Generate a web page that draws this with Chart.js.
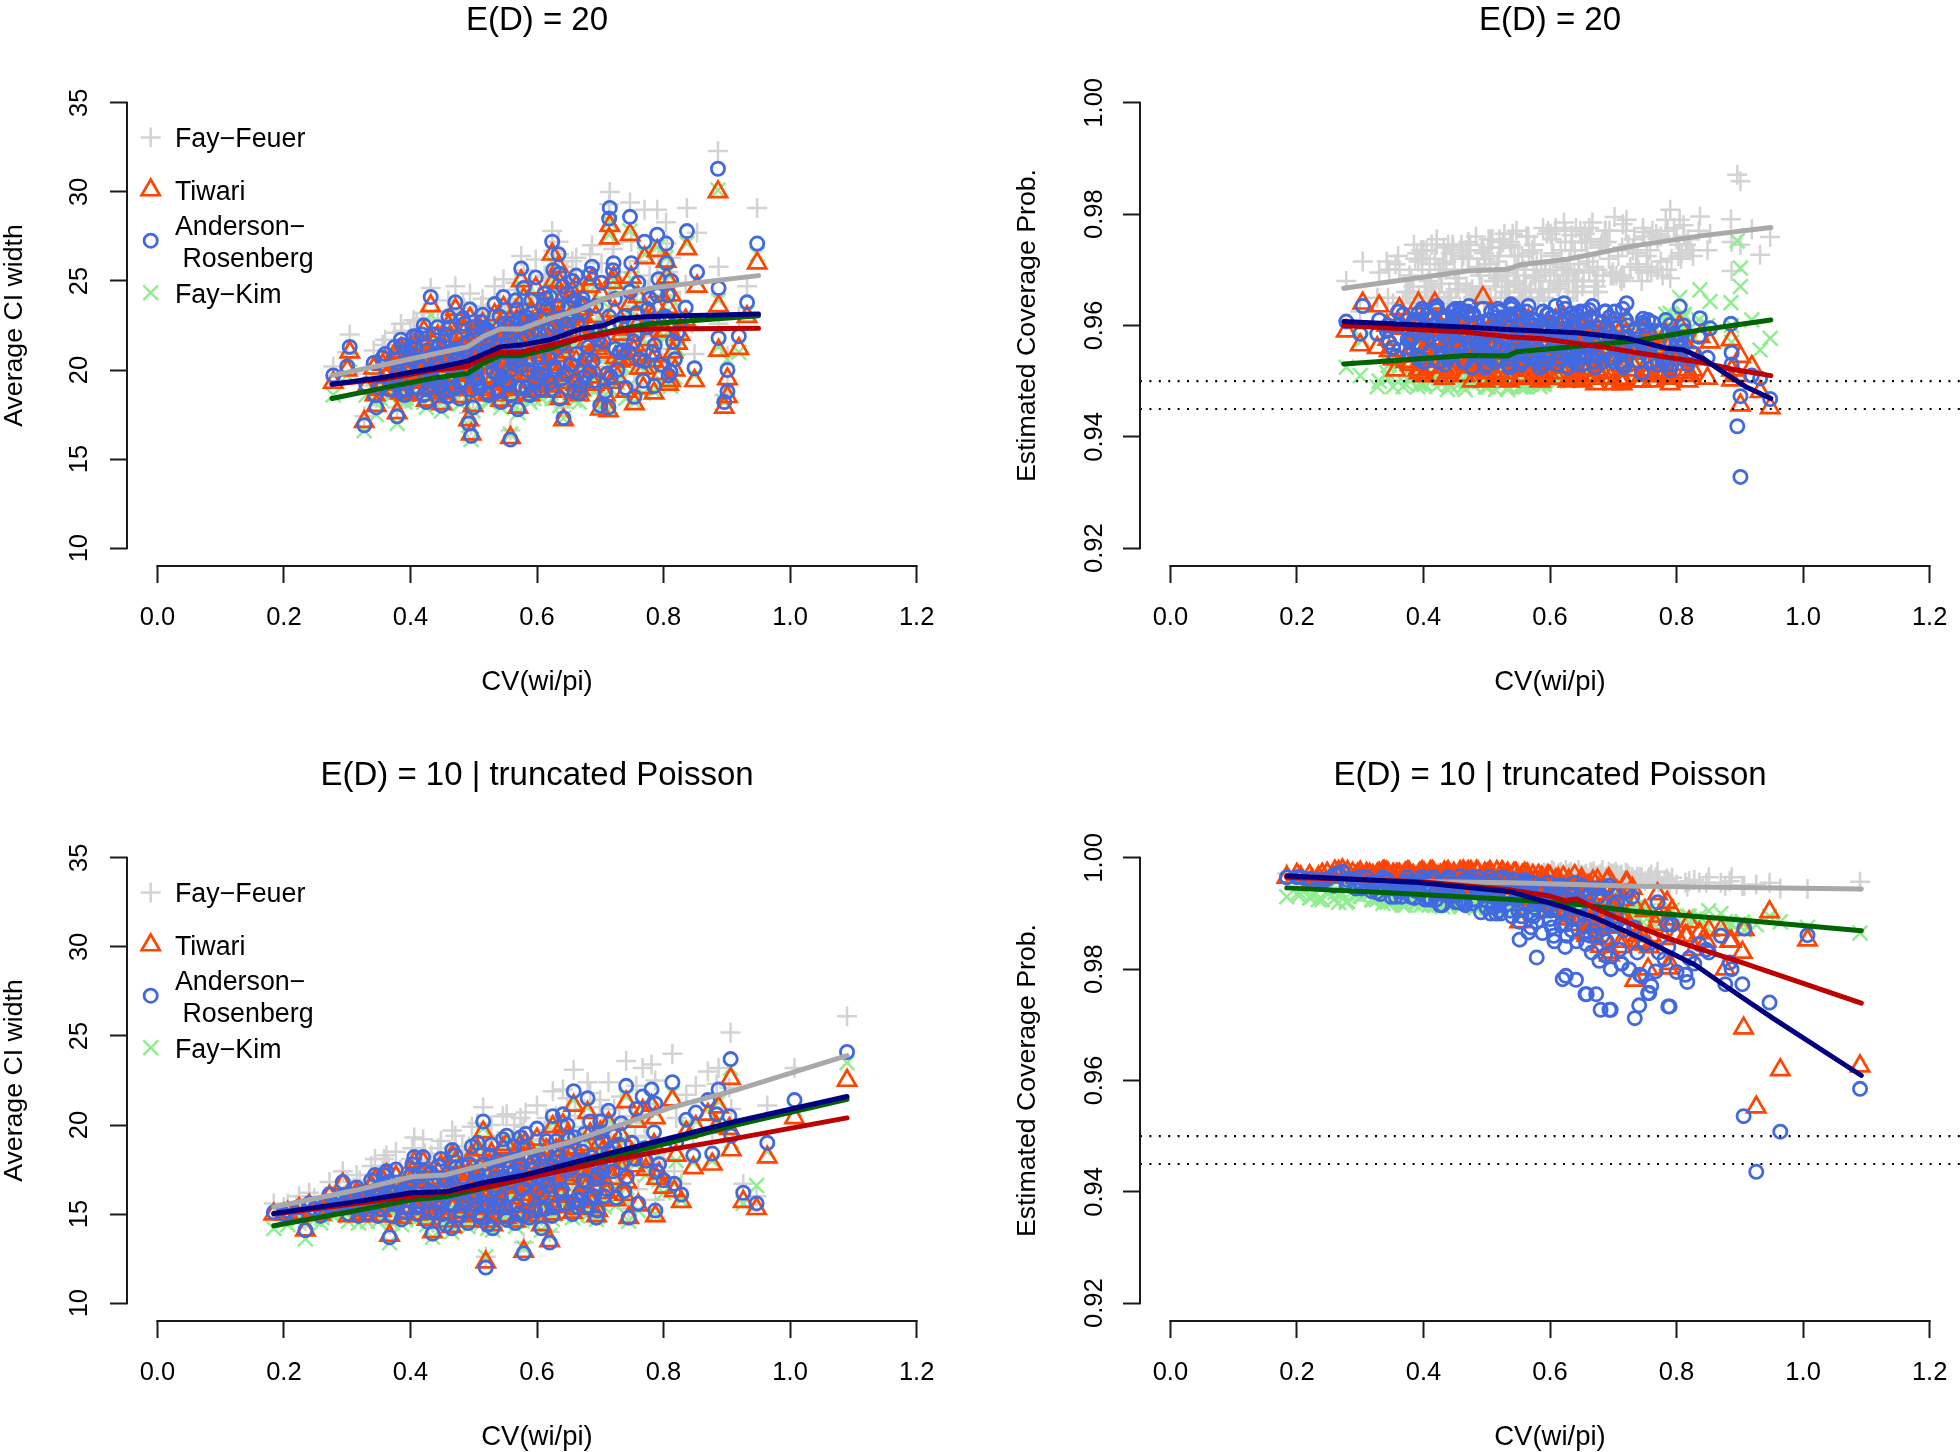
<!DOCTYPE html>
<html>
<head>
<meta charset="utf-8">
<title>CI width and coverage</title>
<script src="https://cdn.jsdelivr.net/npm/chart.js@4/dist/chart.umd.js"></script>
<style>
    html, body { margin: 0; padding: 0; background: #fff; overflow: hidden; width: 1960px; height: 1452px; }
    canvas { position: absolute; }
</style>
</head>
<body>
<canvas id="panel-tl" width="1074" height="726" style="left:0;top:0"></canvas>
<canvas id="panel-tr" width="1074" height="726" style="left:1012.5px;top:0"></canvas>
<canvas id="panel-bl" width="1074" height="726" style="left:0;top:755px"></canvas>
<canvas id="panel-br" width="1074" height="726" style="left:1012.5px;top:755px"></canvas>
<script>
// --- axes ---
const xTickValues = [0, 0.2, 0.4, 0.6, 0.8, 1.0, 1.2];
const widthTicks = [10, 15, 20, 25, 30, 35];
const coverageTicks = [0.92, 0.94, 0.96, 0.98, 1.00];
const referenceLevels = [0.95, 0.945];

// --- E(D) = 20 scatter ---
const cvTop = [
    .886,.948,.715,.714,.747,.770,.790,.804,.805,.837,
    .853,.887,.932,.919,.887,.901,.901,.896,.849,.808,
    .785,.754,.713,.700,.642,.558,.496,.492,.327,.379,
    .346,.304,.300,.278,.432,.471,.421,.575,.624,.634,
    .635,.662,.687,.721,.749,.807,.812,.790,.745,.770,
    .360,.372,.385,.391,.398,.405,.412,.418,.425,.431,
    .438,.443,.449,.455,.460,.466,.472,.478,.483,.489,
    .494,.499,.505,.509,.514,.519,.524,.528,.533,.538,
    .543,.547,.552,.556,.561,.566,.570,.575,.579,.584,
    .589,.593,.598,.603,.607,.612,.617,.622,.626,.631,
    .636,.641,.646,.651,.656,.662,.667,.672,.678,.684,
    .690,.696,.702,.708,.714,.720,.727,.733,.740,.747,
    .753,.760,.768,.775,.783,.792,.800,.811,.822,.835,
    .330,.342,.352,.362,.375,.392,.408,.446,.488,.522,
    .548,.583,.611,.639,.668,.693,.724,.758,.775,.815,
    .381,.387,.393,.399,.404,.410,.415,.421,.427,.433,
    .436,.441,.447,.452,.458,.463,.468,.474,.479,.485,
    .491,.496,.501,.507,.512,.517,.522,.526,.531,.536,
    .541,.545,.550,.554,.559,.563,.568,.572,.577,.581,
    .586,.591,.595,.600,.605,.609,.614,.619,.624,.628,
    .633,.638,.643,.648,.653,.659,.664,.670,.675,.681,
    .384,.396,.407,.424,.439,.456,.470,.487,.503,.515,
    .529,.539,.549,.558,.565,.574,.588,.597,.604,.616,
    .627,.637,.650,.661,.673,.688,.699,.711,.723,.736,
    .344,.356,.368,.378,.390,.402,.413,.429,.444,.461,
    .477,.492,.506,.520,.534,.551,.567,.582,.601,.621,
    .641,.658,.676,.694,.717,.738,.762,.778,.796,.826,
    .446,.474,.498,.511,.537,.557,.573,.592,.608,.630,
    .645,.655,.671,.683,.705,.731,.755,.786,.803,.818,
    .400,.419,.435,.451,.467,.481,.502,.518,.544,.562
];
const widthTopAR = [
    31.3,27.1,29.1,28.5,28.6,27.2,27.6,27.1,26.0,27.8,
    25.5,24.6,23.8,21.9,21.8,20.0,18.8,18.2,20.1,19.7,
    19.1,18.5,17.9,18.0,17.3,16.1,16.3,17.0,16.9,17.4,
    17.9,21.3,20.2,19.7,24.1,23.8,22.5,25.7,27.2,26.5,
    25.4,25.3,25.8,26.0,26.0,24.2,25.0,24.2,21.0,20.5,
    20.9,19.4,21.7,18.6,20.3,21.9,19.0,22.0,18.2,20.7,
    19.3,22.4,18.0,20.8,23.0,19.6,21.8,18.4,22.9,20.2,
    23.4,17.9,21.0,19.0,23.1,22.2,18.6,20.5,23.7,19.7,
    18.2,24.1,21.4,19.2,22.6,23.9,17.8,20.2,24.6,21.9,
    18.6,23.2,25.2,20.7,18.9,24.3,22.2,19.3,25.6,21.2,
    18.4,24.7,19.8,23.5,25.0,20.9,18.7,24.0,22.1,25.4,
    19.4,21.7,24.9,18.8,23.0,25.6,20.0,22.6,19.0,24.4,
    21.6,24.9,19.4,23.4,21.0,25.1,22.9,19.9,22.1,23.5,
    19.2,20.4,19.0,20.0,21.3,20.9,21.2,21.4,21.0,21.7,
    20.3,19.0,20.1,22.8,19.1,23.6,21.2,23.2,22.4,21.6,
    19.9,21.4,18.9,20.9,19.5,21.9,20.2,18.6,21.1,19.8,
    22.0,20.6,19.1,21.6,18.5,22.4,20.0,21.2,19.4,22.6,
    20.5,18.9,21.9,19.3,22.7,20.8,18.7,22.1,19.9,21.3,
    23.0,19.6,21.0,22.4,18.6,20.4,23.4,19.0,21.7,22.8,
    20.0,23.9,18.8,21.5,22.9,19.7,24.0,20.7,18.9,22.5,
    23.6,19.5,21.8,24.3,20.3,18.8,22.7,23.7,19.6,21.3,
    18.8,20.0,21.2,19.6,20.9,22.0,19.0,21.4,20.0,22.2,
    21.1,18.8,22.6,20.0,21.5,22.9,20.6,19.3,22.0,23.5,
    20.2,21.9,22.8,19.4,23.7,20.5,22.3,19.8,24.0,21.1,
    18.6,20.7,18.9,19.7,18.9,20.6,20.2,19.0,21.3,18.9,
    20.7,21.6,19.5,22.3,20.8,19.4,21.1,23.0,19.8,24.1,
    21.5,23.9,20.6,22.0,19.6,23.0,20.6,24.0,20.3,22.7,
    19.2,20.9,22.4,21.4,18.9,21.8,20.6,22.1,21.3,20.0,
    22.5,20.3,23.2,19.9,21.6,21.0,22.0,21.4,23.0,20.6,
    21.3,20.1,19.5,18.8,21.0,19.3,19.7,21.0,22.1,20.9
];
const widthTopTiwari = [
    30.0,26.0,28.1,27.4,27.6,26.3,26.7,26.1,25.2,26.8,
    24.7,23.6,23.0,21.2,21.1,19.5,18.5,17.9,19.4,19.2,
    18.7,18.1,17.7,17.8,17.2,16.2,16.4,17.2,17.1,17.6,
    18.0,21.0,20.0,19.3,23.6,23.4,22.2,25.0,26.5,25.8,
    24.9,24.7,25.1,25.2,25.2,23.5,24.2,23.5,20.6,20.1,
    20.5,19.2,21.2,18.6,19.9,21.4,18.9,21.5,18.3,20.3,
    19.1,21.9,18.1,20.4,22.5,19.3,21.3,18.5,22.4,19.9,
    22.9,18.0,20.6,18.9,22.6,21.7,18.6,20.1,23.1,19.4,
    18.3,23.5,21.0,19.0,22.1,23.3,17.9,19.8,24.0,21.4,
    18.6,22.7,24.6,20.3,18.8,23.7,21.7,19.1,25.0,20.8,
    18.4,24.1,19.5,22.9,24.4,20.5,18.6,23.4,21.6,24.7,
    19.2,21.2,24.2,18.6,22.4,24.9,19.6,22.0,18.8,23.7,
    21.1,24.1,19.0,22.7,20.5,24.4,22.2,19.4,21.5,22.8,
    19.0,20.1,18.9,19.6,20.9,20.5,20.8,21.0,20.6,21.2,
    19.9,18.9,19.7,22.3,18.9,23.0,20.7,22.5,21.7,21.0,
    19.6,21.0,18.8,20.5,19.3,21.4,19.9,18.6,20.7,19.5,
    21.5,20.2,18.9,21.1,18.5,21.9,19.7,20.7,19.2,22.1,
    20.1,18.9,21.4,19.1,22.2,20.4,18.7,21.6,19.6,20.9,
    22.5,19.3,20.6,21.9,18.6,20.0,22.8,18.9,21.2,22.2,
    19.7,23.3,18.8,21.0,22.3,19.4,23.4,20.3,18.8,21.9,
    23.0,19.3,21.3,23.6,19.9,18.7,22.1,23.1,19.3,20.8,
    18.7,19.7,20.8,19.4,20.5,21.5,18.9,20.9,19.7,21.7,
    20.7,18.8,22.0,19.7,21.0,22.3,20.2,19.1,21.5,22.9,
    19.9,21.4,22.2,19.2,23.0,20.1,21.7,19.5,23.3,20.6,
    18.6,20.3,18.9,19.5,18.8,20.2,19.9,18.9,20.9,18.9,
    20.3,21.1,19.2,21.8,20.4,19.2,20.7,22.4,19.5,23.5,
    21.0,23.2,20.2,21.4,19.3,22.3,20.1,23.2,19.8,22.0,
    19.0,20.5,21.9,21.0,18.8,21.3,20.2,21.6,20.8,19.7,
    21.9,19.9,22.5,19.6,21.0,20.5,21.4,20.8,22.2,20.0,
    20.9,19.8,19.3,18.7,20.6,19.1,19.5,20.6,21.6,20.5
];
const widthTopFeuer = [
    32.3,29.1,30.0,29.3,29.4,29.0,29.0,28.3,27.1,29.1,
    27.7,25.8,24.7,23.0,22.6,20.8,19.2,18.6,20.9,20.4,
    19.9,19.2,18.6,18.7,17.9,16.6,16.9,17.6,17.4,17.9,
    18.4,22.0,21.0,20.2,24.6,24.7,23.2,26.4,27.8,27.2,
    26.5,26.3,27.0,27.1,27.2,25.5,26.3,25.3,21.9,21.4,
    21.7,20.0,22.6,19.1,21.0,22.8,19.6,22.9,18.7,21.5,
    20.0,23.3,18.5,21.6,23.9,20.3,22.7,18.9,23.8,21.0,
    24.3,18.4,21.9,19.7,24.0,23.1,19.2,21.3,24.7,20.5,
    18.8,25.1,22.3,20.0,23.6,24.9,18.3,21.1,25.6,22.9,
    19.3,24.2,26.2,21.6,19.6,25.3,23.1,20.0,26.7,22.1,
    19.0,25.8,20.6,24.5,26.1,21.9,19.4,25.1,23.1,26.5,
    20.2,22.8,26.0,19.6,24.1,26.8,20.9,23.6,19.8,25.5,
    22.7,26.1,20.2,24.5,21.9,26.4,24.0,20.9,23.2,24.8,
    19.8,21.1,19.5,20.7,22.1,21.7,22.0,22.3,21.8,22.6,
    21.1,19.6,20.9,23.8,19.8,24.7,22.2,24.3,23.4,22.7,
    20.5,22.2,19.4,21.6,20.1,22.7,20.9,19.1,21.9,20.4,
    22.8,21.3,19.7,22.4,19.0,23.3,20.7,22.0,20.1,23.5,
    21.2,19.4,22.8,19.9,23.6,21.6,19.2,23.0,20.6,22.1,
    24.0,20.3,21.8,23.3,19.2,21.1,24.5,19.6,22.6,23.8,
    20.7,25.0,19.4,22.4,24.0,20.4,25.2,21.5,19.6,23.5,
    24.7,20.2,22.7,25.5,21.1,19.5,23.7,24.8,20.3,22.2,
    19.3,20.7,22.0,20.3,21.7,22.9,19.6,22.2,20.7,23.1,
    22.0,19.4,23.6,20.7,22.4,24.0,21.4,20.0,23.0,24.6,
    21.0,22.9,23.9,20.1,24.8,21.3,23.4,20.6,25.2,22.1,
    19.1,21.4,19.4,20.3,19.4,21.3,20.9,19.6,22.1,19.4,
    21.5,22.5,20.2,23.2,21.6,20.1,22.0,24.0,20.5,25.2,
    22.5,25.1,21.4,23.1,20.4,24.2,21.6,25.3,21.2,23.9,
    19.8,21.7,23.3,22.3,19.5,22.7,21.4,23.1,22.2,20.7,
    23.6,21.1,24.4,20.7,22.7,22.0,23.1,22.4,24.2,21.6,
    22.1,20.8,20.2,19.4,21.8,20.0,20.4,21.8,23.0,21.7
];
const widthTopKim = [
    30.1,26.5,28.3,27.6,27.8,26.5,26.9,26.3,25.4,27.1,
    25.0,23.9,23.2,21.0,21.3,20.6,18.9,18.2,19.7,19.3,
    18.8,18.2,17.8,17.9,17.3,16.4,16.1,16.9,16.6,17.0,
    17.5,20.6,19.7,18.6,23.1,22.9,21.9,24.7,26.1,25.5,
    24.6,24.5,24.9,25.0,25.1,23.3,24.0,23.2,20.3,19.9,
    20.1,18.8,20.9,18.2,19.5,21.1,18.5,21.2,17.9,19.9,
    18.7,21.6,17.7,20.0,22.2,18.9,21.0,18.1,22.0,19.5,
    22.5,17.7,20.2,18.5,22.3,21.4,18.2,19.7,22.8,19.0,
    17.9,23.1,20.6,18.6,21.8,23.0,17.6,19.4,23.6,21.1,
    18.2,22.3,24.3,19.9,18.4,23.4,21.4,18.7,24.6,20.4,
    18.0,23.8,19.1,22.6,24.0,20.1,18.2,23.1,21.3,24.4,
    18.8,20.9,23.9,18.3,22.1,24.6,19.3,21.8,18.4,23.4,
    20.8,23.8,18.7,22.4,20.2,24.1,21.9,19.1,21.2,22.5,
    18.6,19.6,18.4,19.2,20.5,20.1,20.4,20.6,20.2,20.9,
    19.5,18.5,19.4,21.9,18.6,22.7,20.4,22.2,21.4,20.7,
    19.2,20.6,18.4,20.1,18.9,21.0,19.5,18.2,20.3,19.1,
    21.1,19.8,18.5,20.7,18.1,21.5,19.3,20.3,18.8,21.7,
    19.7,18.5,21.0,18.7,21.8,20.0,18.3,21.2,19.2,20.5,
    22.1,18.9,20.2,21.5,18.2,19.6,22.4,18.5,20.8,21.8,
    19.3,22.9,18.4,20.6,21.9,19.0,23.0,19.9,18.4,21.5,
    22.6,18.9,20.9,23.2,19.5,18.3,21.7,22.7,18.9,20.4,
    18.3,19.3,20.4,19.0,20.1,21.1,18.5,20.5,19.3,21.3,
    20.3,18.4,21.6,19.3,20.6,21.9,19.8,18.7,21.1,22.5,
    19.5,21.0,21.8,18.8,22.6,19.7,21.3,19.1,22.9,20.2,
    18.2,19.9,18.5,19.1,18.4,19.8,19.5,18.5,20.5,18.5,
    19.9,20.7,18.8,21.4,20.0,18.8,20.3,22.0,19.1,23.1,
    20.6,22.8,19.8,21.0,18.9,21.9,19.7,22.8,19.4,21.6,
    18.6,20.1,21.5,20.6,18.4,20.9,19.8,21.2,20.4,19.3,
    21.5,19.5,22.1,19.2,20.6,20.1,21.0,20.4,21.8,19.6,
    20.5,19.4,18.9,18.3,20.2,18.7,19.1,20.2,21.2,20.1
];
const coverTopAR = [
    .9603,.9468,.9630,.9563,.9612,.9570,.9601,.9550,.9634,.9613,
    .9595,.9551,.9505,.9510,.9530,.9328,.9473,.9419,.9542,.9560,
    .9530,.9545,.9560,.9535,.9555,.9536,.9550,.9575,.9585,.9550,
    .9570,.9635,.9585,.9607,.9610,.9620,.9628,.9600,.9630,.9622,
    .9615,.9628,.9625,.9640,.9600,.9575,.9590,.9520,.9515,.9530,
    .9625,.9560,.9610,.9545,.9630,.9590,.9555,.9632,.9570,.9615,
    .9540,.9600,.9628,.9565,.9585,.9535,.9635,.9550,.9605,.9575,
    .9630,.9545,.9610,.9590,.9535,.9625,.9560,.9600,.9540,.9638,
    .9570,.9620,.9530,.9598,.9560,.9635,.9545,.9610,.9580,.9525,
    .9625,.9590,.9540,.9615,.9565,.9530,.9605,.9640,.9550,.9585,
    .9540,.9620,.9580,.9530,.9610,.9560,.9635,.9525,.9595,.9550,
    .9600,.9540,.9625,.9575,.9530,.9610,.9555,.9590,.9535,.9605,
    .9565,.9535,.9590,.9550,.9610,.9530,.9570,.9600,.9540,.9580,
    .9610,.9590,.9560,.9600,.9575,.9622,.9595,.9625,.9590,.9610,
    .9585,.9555,.9575,.9600,.9570,.9590,.9580,.9555,.9590,.9545,
    .9575,.9610,.9540,.9625,.9585,.9550,.9600,.9635,.9565,.9530,
    .9595,.9545,.9615,.9570,.9630,.9535,.9590,.9555,.9620,.9580,
    .9545,.9605,.9530,.9625,.9565,.9595,.9540,.9615,.9575,.9525,
    .9635,.9555,.9600,.9530,.9580,.9625,.9545,.9610,.9565,.9535,
    .9595,.9530,.9620,.9555,.9585,.9635,.9540,.9570,.9610,.9525,
    .9600,.9565,.9530,.9625,.9545,.9590,.9615,.9535,.9575,.9605,
    .9605,.9565,.9620,.9535,.9600,.9560,.9625,.9570,.9540,.9615,
    .9550,.9630,.9575,.9535,.9610,.9565,.9530,.9620,.9590,.9550,
    .9570,.9535,.9610,.9585,.9545,.9625,.9565,.9535,.9600,.9575,
    .9600,.9545,.9620,.9570,.9605,.9535,.9615,.9550,.9590,.9625,
    .9525,.9585,.9610,.9560,.9530,.9625,.9590,.9540,.9605,.9565,
    .9595,.9545,.9575,.9615,.9525,.9560,.9605,.9535,.9585,.9550,
    .9610,.9560,.9525,.9590,.9620,.9550,.9600,.9530,.9570,.9610,
    .9545,.9625,.9565,.9535,.9595,.9555,.9610,.9540,.9570,.9530,
    .9535,.9600,.9580,.9630,.9555,.9605,.9570,.9630,.9590,.9545
];
const coverTopTiwari = [
    .9574,.9452,.9598,.9528,.9590,.9515,.9566,.9530,.9600,.9580,
    .9570,.9502,.9481,.9526,.9520,.9457,.9544,.9510,.9505,.9520,
    .9505,.9510,.9500,.9495,.9520,.9520,.9530,.9535,.9560,.9530,
    .9555,.9640,.9565,.9590,.9590,.9600,.9605,.9570,.9610,.9600,
    .9585,.9600,.9595,.9610,.9570,.9540,.9570,.9495,.9500,.9510,
    .9605,.9535,.9590,.9520,.9610,.9565,.9535,.9640,.9550,.9590,
    .9515,.9575,.9610,.9540,.9560,.9510,.9615,.9525,.9580,.9550,
    .9650,.9520,.9590,.9565,.9510,.9600,.9535,.9575,.9515,.9610,
    .9545,.9595,.9505,.9570,.9535,.9610,.9520,.9585,.9555,.9500,
    .9600,.9565,.9515,.9590,.9540,.9505,.9580,.9615,.9525,.9560,
    .9510,.9595,.9550,.9500,.9585,.9530,.9610,.9495,.9570,.9515,
    .9570,.9505,.9600,.9545,.9495,.9585,.9520,.9560,.9500,.9575,
    .9530,.9500,.9560,.9515,.9585,.9505,.9540,.9570,.9510,.9540,
    .9635,.9600,.9540,.9630,.9550,.9640,.9570,.9605,.9565,.9585,
    .9560,.9525,.9550,.9575,.9540,.9560,.9550,.9520,.9560,.9515,
    .9550,.9585,.9515,.9600,.9560,.9525,.9575,.9610,.9540,.9505,
    .9570,.9520,.9590,.9545,.9605,.9510,.9565,.9530,.9595,.9555,
    .9520,.9580,.9505,.9600,.9540,.9570,.9515,.9590,.9550,.9500,
    .9610,.9530,.9575,.9505,.9555,.9600,.9520,.9585,.9540,.9510,
    .9570,.9505,.9595,.9530,.9560,.9610,.9515,.9545,.9585,.9500,
    .9575,.9540,.9505,.9600,.9520,.9565,.9590,.9510,.9550,.9580,
    .9580,.9540,.9595,.9510,.9575,.9535,.9600,.9545,.9515,.9590,
    .9525,.9605,.9550,.9510,.9585,.9540,.9505,.9595,.9565,.9525,
    .9545,.9510,.9585,.9560,.9520,.9600,.9540,.9505,.9575,.9550,
    .9575,.9520,.9595,.9545,.9580,.9510,.9590,.9525,.9565,.9600,
    .9500,.9560,.9585,.9535,.9505,.9600,.9565,.9515,.9580,.9540,
    .9570,.9520,.9550,.9590,.9500,.9535,.9580,.9510,.9560,.9520,
    .9585,.9535,.9500,.9565,.9595,.9525,.9575,.9505,.9545,.9585,
    .9515,.9600,.9540,.9505,.9570,.9530,.9585,.9510,.9540,.9500,
    .9510,.9575,.9555,.9605,.9530,.9580,.9545,.9605,.9565,.9520
];
const coverTopFeuer = [
    .9791,.9759,.9782,.9740,.9768,.9756,.9808,.9745,.9790,.9796,
    .9765,.9698,.9727,.9773,.9750,.9859,.9745,.9871,.9735,.9730,
    .9700,.9695,.9680,.9690,.9660,.9645,.9640,.9670,.9650,.9660,
    .9700,.9715,.9625,.9680,.9740,.9750,.9755,.9745,.9770,.9762,
    .9750,.9775,.9770,.9790,.9760,.9720,.9760,.9685,.9680,.9700,
    .9725,.9660,.9745,.9640,.9700,.9735,.9670,.9720,.9650,.9710,
    .9640,.9730,.9700,.9665,.9745,.9635,.9720,.9650,.9760,.9690,
    .9735,.9645,.9710,.9755,.9650,.9725,.9670,.9765,.9660,.9745,
    .9680,.9770,.9650,.9725,.9690,.9760,.9660,.9745,.9710,.9665,
    .9775,.9700,.9660,.9755,.9680,.9670,.9735,.9785,.9690,.9720,
    .9680,.9775,.9710,.9670,.9750,.9695,.9785,.9680,.9740,.9690,
    .9750,.9690,.9795,.9725,.9690,.9770,.9705,.9755,.9700,.9775,
    .9725,.9695,.9765,.9715,.9790,.9720,.9755,.9780,.9735,.9770,
    .9695,.9715,.9640,.9700,.9660,.9715,.9680,.9735,.9700,.9740,
    .9700,.9680,.9710,.9735,.9705,.9720,.9745,.9735,.9760,.9745,
    .9685,.9720,.9650,.9735,.9670,.9710,.9650,.9745,.9690,.9640,
    .9715,.9660,.9740,.9685,.9630,.9725,.9670,.9745,.9650,.9705,
    .9665,.9730,.9645,.9755,.9680,.9715,.9640,.9750,.9695,.9660,
    .9765,.9675,.9725,.9650,.9700,.9760,.9660,.9735,.9685,.9645,
    .9715,.9650,.9765,.9690,.9730,.9775,.9665,.9705,.9750,.9650,
    .9735,.9695,.9660,.9770,.9680,.9725,.9755,.9660,.9700,.9745,
    .9670,.9735,.9650,.9700,.9745,.9675,.9720,.9655,.9755,.9690,
    .9660,.9740,.9705,.9650,.9760,.9690,.9660,.9770,.9725,.9675,
    .9700,.9660,.9750,.9715,.9670,.9770,.9695,.9685,.9745,.9710,
    .9650,.9710,.9640,.9690,.9730,.9660,.9745,.9675,.9650,.9720,
    .9665,.9735,.9650,.9755,.9690,.9670,.9730,.9650,.9765,.9700,
    .9680,.9750,.9660,.9770,.9685,.9730,.9770,.9690,.9775,.9725,
    .9745,.9660,.9720,.9680,.9750,.9660,.9735,.9695,.9770,.9680,
    .9700,.9765,.9680,.9750,.9690,.9735,.9705,.9770,.9725,.9755,
    .9735,.9650,.9700,.9665,.9735,.9655,.9740,.9685,.9725,.9665
];
const coverTopKim = [
    .9641,.9577,.9610,.9570,.9605,.9560,.9622,.9565,.9650,.9664,
    .9643,.9600,.9556,.9610,.9570,.9703,.9670,.9752,.9600,.9610,
    .9590,.9570,.9555,.9540,.9520,.9490,.9505,.9525,.9490,.9500,
    .9530,.9575,.9510,.9525,.9550,.9545,.9560,.9520,.9545,.9550,
    .9560,.9575,.9580,.9600,.9590,.9590,.9620,.9560,.9550,.9575,
    .9540,.9495,.9510,.9490,.9560,.9525,.9500,.9555,.9505,.9530,
    .9485,.9535,.9550,.9505,.9520,.9485,.9545,.9495,.9530,.9510,
    .9545,.9490,.9530,.9515,.9485,.9540,.9500,.9520,.9485,.9550,
    .9505,.9545,.9490,.9525,.9500,.9555,.9495,.9530,.9515,.9490,
    .9550,.9530,.9505,.9545,.9515,.9500,.9540,.9560,.9510,.9525,
    .9515,.9565,.9535,.9510,.9555,.9525,.9570,.9515,.9545,.9520,
    .9560,.9525,.9590,.9545,.9520,.9585,.9535,.9565,.9530,.9580,
    .9560,.9540,.9595,.9560,.9620,.9545,.9590,.9615,.9570,.9610,
    .9500,.9515,.9490,.9530,.9505,.9540,.9510,.9550,.9525,.9535,
    .9515,.9500,.9530,.9540,.9530,.9550,.9555,.9545,.9580,.9570,
    .9510,.9535,.9495,.9545,.9520,.9505,.9540,.9490,.9525,.9500,
    .9540,.9495,.9530,.9510,.9550,.9490,.9525,.9505,.9545,.9515,
    .9500,.9535,.9490,.9550,.9510,.9530,.9495,.9545,.9520,.9505,
    .9555,.9500,.9535,.9490,.9515,.9550,.9495,.9540,.9510,.9500,
    .9525,.9495,.9550,.9510,.9535,.9560,.9505,.9520,.9545,.9500,
    .9540,.9515,.9505,.9560,.9510,.9530,.9550,.9510,.9525,.9545,
    .9515,.9495,.9540,.9505,.9530,.9495,.9550,.9510,.9490,.9535,
    .9500,.9545,.9520,.9495,.9540,.9510,.9495,.9550,.9530,.9505,
    .9520,.9510,.9550,.9535,.9515,.9565,.9530,.9525,.9560,.9550,
    .9505,.9530,.9490,.9520,.9540,.9495,.9545,.9505,.9490,.9535,
    .9495,.9525,.9545,.9505,.9490,.9550,.9520,.9495,.9540,.9510,
    .9530,.9510,.9545,.9565,.9525,.9555,.9575,.9540,.9595,.9580,
    .9545,.9500,.9490,.9525,.9550,.9495,.9535,.9500,.9520,.9545,
    .9515,.9555,.9535,.9520,.9565,.9545,.9580,.9550,.9590,.9570,
    .9495,.9535,.9520,.9550,.9500,.9540,.9510,.9545,.9530,.9490
];

// --- E(D) = 10 | truncated Poisson scatter ---
const cvBottom = [
    1.09,1.007,.906,.814,.741,.658,.68,.515,.293,.184,
    .234,.367,.435,.465,.519,.579,.62,.607,.53,.566,
    .947,.926,.964,.907,.877,.847,.817,.828,.787,.745,
    .694,.656,.887,.87,.904,.851,.884,.836,.781,.767,
    .787,.713,.757,.70,.625,.641,.552,.574,.466,.506,
    .406,.42,.362,.344,.266,.789,.734,.696,.755,.673,
    .288,.302,.315,.326,.338,.349,.358,.369,.377,.386,
    .394,.403,.411,.418,.426,.433,.441,.448,.456,.463,
    .471,.478,.484,.491,.497,.503,.509,.516,.522,.528,
    .534,.54,.546,.552,.558,.564,.57,.576,.582,.588,
    .594,.6,.606,.612,.618,.624,.63,.636,.642,.648,
    .654,.66,.666,.672,.678,.684,.69,.696,.703,.71,
    .717,.725,.733,.742,.75,.76,.772,.785,.8,.82,
    .206,.224,.248,.258,.272,.28,.31,.33,.352,.373,
    .31,.32,.332,.343,.354,.365,.375,.384,.392,.401,
    .409,.416,.423,.43,.437,.444,.451,.458,.465,.472,
    .479,.486,.493,.5,.507,.513,.519,.525,.531,.537,
    .543,.549,.555,.561,.567,.573,.579,.585,.591,.597,
    .603,.609,.615,.621,.627,.633,.639,.645,.651,.657,
    .663,.669,.675,.681,.687,.693,.699,.706,.713,.72,
    .327,.341,.356,.371,.388,.398,.412,.427,.439,.453,
    .469,.482,.495,.511,.524,.538,.55,.563,.577,.59,
    .601,.613,.625,.638,.65,.664,.677,.69,.704,.73,
    .296,.318,.336,.36,.38,.396,.414,.43,.447,.46,
    .475,.488,.501,.517,.533,.548,.56,.572,.587,.6,
    .617,.634,.647,.668,.683,.7,.722,.738,.77,.793,
    .2,.22,.24,.26,.278,.3,.505,.535,.556,.61
];
const widthBottomAR = [
    24.1,21.4,23.7,22.4,22.2,21.9,21.5,20.2,16.8,15.1,
    14.1,13.7,13.9,14.2,12.0,12.8,13.4,14.2,14.2,14.5,
    15.6,16.2,19.0,19.4,18.4,18.3,16.7,16.1,15.2,14.8,
    14.8,15.0,22.0,21.4,20.5,20.7,20.6,20.3,22.0,21.6,
    21.2,20.8,20.9,20.2,20.5,20.6,19.4,19.3,18.6,19.0,
    18.2,18.2,17.4,17.2,15.6,17.4,17.9,17.2,18.1,16.9,
    15.9,15.0,16.5,15.3,16.9,14.9,17.2,15.7,17.5,14.7,
    16.2,17.8,15.0,16.8,14.6,17.3,15.8,18.1,14.4,16.5,
    18.3,15.2,17.1,14.5,18.8,16.0,15.0,17.8,14.4,18.9,
    16.6,15.5,19.2,14.7,17.6,18.8,15.0,16.4,19.5,14.8,
    17.9,19.8,15.3,18.4,16.6,14.9,19.1,17.0,15.6,20.0,
    17.6,19.3,15.8,18.5,16.8,20.2,17.9,15.2,19.1,16.4,
    18.4,15.9,20.1,17.1,19.0,15.6,18.0,19.6,16.9,19.0,
    15.2,15.4,15.3,14.9,16.1,15.5,15.9,16.0,16.4,16.2,
    15.4,16.2,15.0,16.3,15.3,16.8,15.6,16.6,15.1,17.2,
    15.4,16.6,17.4,15.1,16.2,17.7,15.0,16.9,15.6,17.6,
    14.9,16.3,17.8,15.5,17.2,14.8,16.1,18.3,15.4,17.4,
    15.9,14.9,18.0,16.8,15.5,17.4,18.7,15.9,17.0,15.2,
    18.1,16.1,19.1,17.4,15.4,18.6,16.4,17.8,19.2,15.7,
    17.9,16.2,19.5,15.4,18.2,17.0,19.6,16.0,18.5,17.4,
    15.9,15.5,16.6,14.9,16.3,15.4,17.1,16.1,15.1,16.9,
    15.5,17.7,15.9,16.9,15.5,18.0,15.4,17.3,14.9,18.2,
    16.3,15.3,17.7,16.2,18.4,15.4,18.0,16.0,17.4,18.9,
    15.6,14.9,15.8,16.0,15.9,16.6,15.5,16.3,15.4,17.3,
    16.4,15.6,16.8,15.6,16.4,17.1,16.1,17.7,16.9,17.1,
    16.9,18.2,17.4,18.0,15.9,17.7,19.4,16.3,18.7,17.8,
    15.0,15.0,15.6,15.2,15.4,16.1,17.4,17.0,16.8,16.9
];
const widthBottomTiwari = [
    22.5,20.4,22.6,21.4,21.3,21.1,20.7,19.6,16.7,15.0,
    14.1,13.8,14.0,14.3,12.3,12.9,13.5,14.4,14.4,14.6,
    15.3,15.7,18.2,18.6,17.8,17.6,16.3,15.7,14.9,14.8,
    14.9,15.1,21.0,20.6,19.8,19.9,19.9,19.6,21.1,20.8,
    20.4,20.1,20.2,19.6,19.9,20.0,18.9,18.9,18.3,18.6,
    17.9,17.9,17.2,16.9,15.5,17.0,17.5,16.9,17.7,16.6,
    15.8,14.9,16.2,15.2,16.6,14.9,16.8,15.5,17.1,14.8,
    16.0,17.4,15.0,16.5,14.7,17.0,15.6,17.7,14.6,16.2,
    17.9,15.1,16.8,14.6,18.3,15.8,15.0,17.4,14.6,18.4,
    16.3,15.4,18.7,14.8,17.2,18.3,15.0,16.1,19.0,14.9,
    17.5,19.2,15.3,17.9,16.3,15.0,18.6,16.7,15.5,19.4,
    17.2,18.7,15.7,18.0,16.5,19.5,17.5,15.2,18.5,16.2,
    17.9,15.8,19.4,16.8,18.4,15.5,17.5,18.9,16.5,18.3,
    15.1,15.3,15.2,15.0,16.0,15.3,15.7,15.8,16.2,16.0,
    15.3,16.0,15.0,16.1,15.2,16.5,15.5,16.3,15.1,16.9,
    15.3,16.3,17.0,15.1,16.0,17.3,15.0,16.6,15.4,17.2,
    14.9,16.0,17.4,15.3,16.8,14.9,15.9,17.8,15.3,17.0,
    15.7,14.9,17.5,16.5,15.4,17.0,18.2,15.7,16.6,15.2,
    17.6,15.9,18.6,17.0,15.4,18.1,16.1,17.4,18.6,15.6,
    17.5,16.0,18.9,15.4,17.7,16.6,19.0,15.8,17.9,17.0,
    15.8,15.4,16.4,14.9,16.1,15.3,16.8,15.9,15.1,16.6,
    15.4,17.3,15.7,16.6,15.4,17.5,15.3,16.9,15.0,17.7,
    16.0,15.3,17.3,16.0,17.9,15.3,17.5,15.8,17.0,18.3,
    15.5,14.9,15.7,15.8,15.7,16.3,15.4,16.1,15.3,17.0,
    16.2,15.5,16.5,15.5,16.1,16.7,15.9,17.3,16.5,16.7,
    16.5,17.7,17.0,17.5,15.8,17.3,18.8,16.1,18.1,17.3,
    15.0,15.0,15.5,15.2,15.3,16.0,17.0,16.7,16.5,16.5
];
const widthBottomFeuer = [
    26.1,23.2,25.2,24.0,23.6,23.1,22.4,21.0,17.4,15.6,
    14.6,14.4,14.5,14.9,12.6,13.4,14.0,14.9,14.8,15.1,
    16.0,16.7,21.1,20.9,19.6,19.4,17.4,16.7,15.8,15.3,
    15.4,15.6,23.2,23.0,22.1,22.2,22.3,21.7,23.4,23.2,
    22.5,22.4,22.2,21.4,21.9,22.0,20.6,20.4,19.7,20.1,
    19.3,19.2,18.3,18.1,16.0,18.4,19.0,18.3,19.4,18.0,
    16.5,15.4,17.2,15.8,17.7,15.3,18.1,16.3,18.5,15.2,
    16.9,18.7,15.5,17.6,15.1,18.3,16.5,19.1,14.9,17.3,
    19.4,15.7,18.0,15.0,19.9,16.8,15.6,18.9,15.0,20.0,
    17.5,16.1,20.5,15.2,18.7,20.0,15.6,17.3,20.7,15.4,
    19.1,21.1,16.0,19.7,17.6,15.5,20.5,18.1,16.3,21.5,
    18.8,20.8,16.5,19.9,17.9,21.8,19.1,15.8,20.6,17.5,
    19.7,16.7,21.6,18.3,20.5,16.4,19.3,21.2,18.1,20.4,
    15.6,16.0,15.9,15.3,16.8,16.1,16.5,16.7,17.2,17.0,
    15.9,16.9,15.5,17.0,15.8,17.7,16.2,17.5,15.6,18.1,
    16.0,17.5,18.4,15.6,17.0,18.7,15.5,17.8,16.2,18.6,
    15.4,17.1,18.8,16.1,18.2,15.3,16.9,19.4,16.0,18.4,
    16.6,15.4,19.0,17.8,16.1,18.4,19.9,16.6,18.0,15.7,
    19.2,16.9,20.4,18.5,16.0,19.8,17.3,18.9,20.5,16.4,
    19.0,17.1,20.9,16.0,19.4,18.0,21.0,16.8,19.8,18.5,
    16.5,16.0,17.4,15.4,17.1,16.0,18.0,16.9,15.6,17.9,
    16.1,18.8,16.7,17.9,16.1,19.1,16.0,18.4,15.4,19.4,
    17.1,15.8,18.8,17.0,19.6,16.0,19.2,16.8,18.5,20.3,
    16.1,15.4,16.4,16.8,16.6,17.5,16.1,17.1,16.0,18.3,
    17.3,16.3,17.8,16.2,17.3,18.2,16.9,18.8,17.9,18.2,
    17.9,19.4,18.5,19.2,16.7,18.9,20.9,17.1,20.1,19.0,
    15.4,15.5,16.2,15.7,16.0,16.8,18.4,18.0,17.8,17.9
];
const widthBottomKim = [
    23.5,20.9,23.2,21.8,21.6,21.4,21.0,19.8,16.2,14.2,
    13.6,13.4,13.7,14.0,12.6,13.1,13.8,14.1,14.1,14.3,
    16.6,15.6,18.5,19.1,18.0,17.9,16.7,15.8,15.0,14.6,
    14.7,14.8,21.3,20.9,20.0,20.2,20.2,20.0,21.5,21.1,
    20.7,20.3,20.4,19.8,20.1,20.2,19.2,19.1,18.4,18.8,
    17.7,17.7,16.9,16.7,15.0,17.1,17.6,16.9,17.8,16.6,
    15.4,14.6,15.9,14.9,16.3,14.6,16.6,15.2,16.9,14.4,
    15.7,17.0,14.7,16.2,14.4,16.7,15.3,17.3,14.2,16.0,
    17.6,14.9,16.5,14.3,18.0,15.4,14.7,17.1,14.2,18.1,
    16.0,15.1,18.4,14.5,16.8,18.0,14.7,15.8,18.6,14.6,
    17.1,18.8,15.0,17.6,16.0,14.7,18.3,16.4,15.2,19.0,
    16.9,18.3,15.3,17.7,16.2,19.2,17.2,14.9,18.2,15.9,
    17.6,15.5,19.1,16.5,18.1,15.2,17.2,18.6,16.2,18.0,
    14.4,14.8,14.7,14.5,15.6,14.9,15.3,15.5,15.9,15.7,
    14.9,15.6,14.6,15.7,14.8,16.1,15.1,15.9,14.7,16.5,
    14.9,15.9,16.6,14.7,15.6,16.9,14.6,16.2,15.0,16.8,
    14.5,15.6,17.0,14.9,16.4,14.5,15.5,17.4,14.9,16.6,
    15.3,14.5,17.1,16.1,15.0,16.6,17.8,15.3,16.2,14.8,
    17.2,15.5,18.2,16.6,15.0,17.7,15.7,17.0,18.2,15.2,
    17.1,15.6,18.5,15.0,17.3,16.2,18.6,15.4,17.5,16.6,
    15.4,15.0,16.0,14.5,15.7,14.9,16.4,15.5,14.7,16.2,
    15.0,16.9,15.3,16.2,15.0,17.1,14.9,16.5,14.6,17.3,
    15.6,14.9,16.9,15.6,17.5,14.9,17.1,15.4,16.6,17.9,
    15.1,14.5,15.3,15.4,15.3,15.9,15.0,15.7,14.9,16.6,
    15.8,15.1,16.1,15.1,15.7,16.3,15.5,16.9,16.1,16.3,
    16.1,17.3,16.6,17.1,15.4,16.9,18.4,15.7,17.7,16.9,
    14.6,14.6,15.1,14.8,14.9,15.6,16.6,16.3,16.1,16.1
];
const coverBottomAR = [
    .9585,.9861,.9536,.9790,.9735,.9755,.9727,.9900,.9945,.9965,
    .9960,.9945,.9935,.9920,.9905,.9821,.9782,.9850,.9930,.9866,
    .9740,.9436,.9508,.9873,.9773,.9835,.9777,.9810,.9733,.9787,
    .9727,.9755,.9800,.9860,.9773,.9830,.9812,.9845,.9818,.9796,
    .9840,.9810,.9757,.9880,.9788,.9781,.9853,.9895,.9915,.9900,
    .9930,.9925,.9940,.9950,.9970,.9733,.9712,.9727,.9757,.9755,
    .9962,.9945,.9955,.9938,.9960,.9930,.9950,.9942,.9958,.9928,
    .9950,.9925,.9960,.9938,.9915,.9955,.9930,.9948,.9920,.9958,
    .9945,.9918,.9956,.9902,.9935,.9948,.9912,.9950,.9900,.9938,
    .9930,.9895,.9942,.9885,.9920,.9935,.9875,.9910,.9925,.9865,
    .9915,.9930,.9860,.9905,.9880,.9840,.9920,.9890,.9850,.9912,
    .9878,.9900,.9830,.9860,.9815,.9895,.9850,.9800,.9880,.9835,
    .9870,.9800,.9875,.9790,.9845,.9770,.9830,.9880,.9795,.9820,
    .9965,.9955,.9962,.9950,.9975,.9960,.9950,.9958,.9945,.9955,
    .9965,.9950,.9935,.9960,.9945,.9930,.9965,.9955,.9940,.9960,
    .9925,.9965,.9945,.9915,.9960,.9935,.9920,.9967,.9940,.9955,
    .9925,.9965,.9945,.9910,.9958,.9930,.9915,.9965,.9940,.9905,
    .9960,.9930,.9895,.9950,.9915,.9955,.9885,.9940,.9905,.9955,
    .9875,.9945,.9905,.9950,.9860,.9925,.9955,.9890,.9940,.9845,
    .9935,.9870,.9945,.9900,.9825,.9950,.9880,.9920,.9810,.9940,
    .9950,.9960,.9930,.9955,.9940,.9965,.9925,.9950,.9965,.9935,
    .9960,.9925,.9950,.9915,.9962,.9935,.9905,.9955,.9925,.9945,
    .9905,.9950,.9880,.9925,.9950,.9860,.9930,.9945,.9895,.9930,
    .9958,.9940,.9965,.9950,.9930,.9955,.9965,.9935,.9950,.9925,
    .9965,.9940,.9955,.9925,.9960,.9945,.9960,.9900,.9950,.9890,
    .9935,.9870,.9910,.9945,.9860,.9915,.9940,.9830,.9920,.9880,
    .9965,.9962,.9958,.9970,.9955,.9965,.9965,.9950,.9955,.9940
];
const coverBottomTiwari = [
    .9626,.9852,.9694,.9860,.9850,.9860,.9841,.9945,.9965,.9965,
    .9965,.9960,.9965,.9970,.9955,.9940,.9925,.9930,.9950,.9935,
    .9903,.9552,.9619,.9871,.9800,.9850,.9860,.9835,.9802,.9845,
    .9825,.9865,.9850,.9871,.9830,.9870,.9850,.9865,.9855,.9880,
    .9890,.9850,.9840,.9910,.9900,.9880,.9885,.9925,.9960,.9940,
    .9960,.9965,.9970,.9972,.9975,.9810,.9780,.9830,.9800,.9880,
    .9972,.9966,.9970,.9958,.9975,.9962,.9970,.9965,.9974,.9960,
    .9972,.9965,.9975,.9968,.9960,.9974,.9966,.9972,.9962,.9976,
    .9975,.9958,.9976,.9955,.9972,.9970,.9960,.9975,.9952,.9968,
    .9968,.9950,.9972,.9945,.9965,.9970,.9940,.9960,.9968,.9935,
    .9958,.9965,.9930,.9955,.9945,.9920,.9960,.9940,.9925,.9952,
    .9930,.9950,.9890,.9935,.9905,.9945,.9920,.9875,.9935,.9900,
    .9925,.9880,.9915,.9865,.9905,.9860,.9895,.9920,.9860,.9885,
    .9965,.9960,.9972,.9965,.9978,.9975,.9968,.9972,.9970,.9972,
    .9972,.9968,.9960,.9972,.9965,.9958,.9974,.9968,.9964,.9972,
    .9950,.9973,.9965,.9945,.9972,.9958,.9950,.9975,.9962,.9970,
    .9950,.9974,.9962,.9940,.9970,.9952,.9945,.9974,.9960,.9935,
    .9972,.9952,.9925,.9965,.9940,.9968,.9915,.9958,.9930,.9968,
    .9905,.9960,.9930,.9965,.9890,.9945,.9968,.9915,.9955,.9875,
    .9950,.9895,.9960,.9925,.9855,.9962,.9905,.9940,.9840,.9955,
    .9970,.9974,.9955,.9972,.9962,.9975,.9950,.9968,.9975,.9958,
    .9972,.9948,.9965,.9942,.9974,.9955,.9935,.9968,.9945,.9960,
    .9930,.9962,.9905,.9945,.9962,.9885,.9945,.9958,.9915,.9945,
    .9970,.9960,.9975,.9968,.9955,.9970,.9975,.9955,.9968,.9950,
    .9975,.9960,.9970,.9950,.9972,.9962,.9972,.9925,.9965,.9915,
    .9950,.9895,.9930,.9958,.9885,.9935,.9955,.9860,.9935,.9905,
    .9970,.9968,.9970,.9976,.9968,.9974,.9975,.9965,.9968,.9958
];
const coverBottomFeuer = [
    .9957,.9944,.9950,.9955,.9958,.9965,.9960,.9965,.9970,.9972,
    .9968,.9972,.9968,.9966,.9970,.9962,.9965,.9968,.9966,.9965,
    .9955,.9952,.9945,.9950,.9950,.9955,.9948,.9960,.9950,.9965,
    .9960,.9970,.9965,.9955,.9950,.9965,.9958,.9955,.9960,.9965,
    .9958,.9970,.9965,.9972,.9968,.9970,.9965,.9968,.9970,.9968,
    .9973,.9968,.9970,.9975,.9972,.9955,.9960,.9965,.9962,.9968,
    .9965,.9970,.9962,.9968,.9972,.9965,.9970,.9963,.9975,.9966,
    .9968,.9973,.9965,.9970,.9975,.9966,.9972,.9968,.9974,.9965,
    .9972,.9966,.9970,.9975,.9965,.9972,.9968,.9974,.9966,.9970,
    .9975,.9966,.9972,.9965,.9970,.9974,.9966,.9968,.9972,.9964,
    .9972,.9966,.9975,.9968,.9970,.9964,.9972,.9966,.9970,.9963,
    .9968,.9962,.9972,.9965,.9970,.9960,.9966,.9972,.9964,.9968,
    .9960,.9968,.9955,.9965,.9958,.9970,.9955,.9963,.9952,.9958,
    .9970,.9965,.9975,.9968,.9978,.9970,.9972,.9975,.9970,.9974,
    .9968,.9972,.9966,.9970,.9975,.9965,.9971,.9968,.9973,.9966,
    .9970,.9965,.9973,.9968,.9966,.9972,.9970,.9964,.9974,.9967,
    .9972,.9966,.9970,.9975,.9964,.9971,.9968,.9973,.9966,.9970,
    .9965,.9973,.9968,.9970,.9975,.9964,.9971,.9967,.9973,.9966,
    .9978,.9966,.9972,.9964,.9970,.9975,.9965,.9978,.9968,.9972,
    .9964,.9976,.9968,.9972,.9965,.9975,.9962,.9970,.9966,.9973,
    .9970,.9966,.9973,.9968,.9971,.9965,.9974,.9967,.9970,.9966,
    .9968,.9973,.9966,.9972,.9965,.9971,.9975,.9966,.9970,.9973,
    .9965,.9972,.9978,.9966,.9970,.9974,.9964,.9968,.9975,.9965,
    .9972,.9967,.9970,.9974,.9965,.9969,.9972,.9966,.9974,.9968,
    .9966,.9972,.9968,.9974,.9965,.9970,.9967,.9973,.9965,.9971,
    .9975,.9966,.9970,.9964,.9978,.9968,.9972,.9966,.9975,.9964,
    .9972,.9968,.9974,.9970,.9975,.9968,.9970,.9966,.9972,.9968
];
const coverBottomKim = [
    .9865,.9875,.9880,.9890,.9905,.9925,.9915,.9925,.9935,.9930,
    .9925,.9915,.9918,.9920,.9915,.9920,.9925,.9918,.9912,.9915,
    .9895,.9880,.9885,.9870,.9885,.9875,.9895,.9890,.9905,.9900,
    .9925,.9925,.9880,.9900,.9885,.9905,.9885,.9895,.9905,.9890,
    .9900,.9915,.9895,.9900,.9920,.9910,.9910,.9925,.9925,.9920,
    .9925,.9915,.9930,.9925,.9920,.9900,.9905,.9915,.9905,.9920,
    .9940,.9930,.9935,.9925,.9932,.9920,.9938,.9926,.9930,.9918,
    .9935,.9920,.9930,.9925,.9915,.9928,.9922,.9932,.9918,.9926,
    .9930,.9915,.9928,.9912,.9925,.9922,.9910,.9926,.9908,.9918,
    .9925,.9912,.9922,.9910,.9918,.9920,.9908,.9915,.9925,.9905,
    .9918,.9925,.9905,.9915,.9910,.9900,.9922,.9912,.9905,.9920,
    .9915,.9920,.9905,.9910,.9900,.9918,.9908,.9900,.9912,.9905,
    .9900,.9895,.9910,.9890,.9905,.9885,.9900,.9912,.9885,.9895,
    .9935,.9930,.9940,.9925,.9935,.9922,.9935,.9928,.9925,.9930,
    .9938,.9925,.9932,.9920,.9935,.9918,.9930,.9925,.9920,.9933,
    .9915,.9930,.9925,.9912,.9928,.9918,.9932,.9914,.9926,.9920,
    .9930,.9915,.9925,.9910,.9928,.9918,.9912,.9930,.9920,.9908,
    .9928,.9914,.9922,.9908,.9925,.9912,.9920,.9906,.9918,.9926,
    .9910,.9925,.9915,.9908,.9922,.9912,.9905,.9920,.9915,.9902,
    .9918,.9905,.9915,.9910,.9900,.9918,.9908,.9914,.9898,.9912,
    .9930,.9922,.9935,.9915,.9928,.9918,.9932,.9925,.9914,.9930,
    .9920,.9910,.9928,.9914,.9924,.9908,.9928,.9916,.9922,.9912,
    .9922,.9910,.9918,.9925,.9905,.9915,.9912,.9906,.9918,.9900,
    .9935,.9925,.9918,.9930,.9922,.9915,.9932,.9920,.9926,.9912,
    .9928,.9914,.9925,.9912,.9922,.9908,.9926,.9915,.9910,.9922,
    .9912,.9920,.9908,.9915,.9905,.9918,.9900,.9912,.9895,.9906,
    .9935,.9928,.9925,.9938,.9920,.9932,.9918,.9922,.9912,.9915
];

// --- smoothers ---
const lineCvTL = [.276,.358,.437,.49,.516,.542,.574,.621,.669,.705,.732,.78,.95];
const lineWidthTLFeuer = [19.7,20.3,20.9,21.3,21.9,22.3,22.3,22.9,23.4,24.0,24.3,24.6,25.3];
const lineWidthTLKim = [18.4,19.0,19.55,19.8,20.4,20.8,20.8,21.2,21.8,22.1,22.3,22.6,23.05];
const lineWidthTLTiwari = [19.2,19.5,20.0,20.2,20.7,21.0,21.0,21.4,21.8,22.0,22.2,22.3,22.35];
const lineWidthTLAR = [19.2,19.6,20.1,20.5,20.9,21.3,21.4,21.7,22.3,22.5,22.9,23.0,23.15];

const lineCvTRFeuer = [.274,.469,.532,.553,.627,.733,.838,.949];
const lineCoverTRFeuer = [.9667,.9698,.9701,.9709,.9719,.9743,.9761,.9776];
const lineCvTRKim = [.274,.469,.532,.548,.627,.733,.838,.949];
const lineCoverTRKim = [.9531,.9546,.9545,.9553,.9561,.9572,.9592,.961];
const lineCvTRTiwari = [.274,.469,.532,.59,.68,.743,.843,.89,.949];
const lineCoverTRTiwari = [.96,.9588,.958,.9576,.9562,.955,.9533,.9521,.951];
const lineCvTRAR = [.274,.469,.532,.643,.722,.785,.811,.843,.87,.911,.949];
const lineCoverTRAR = [.9607,.9597,.9593,.9587,.9577,.9559,.9556,.954,.9519,.9489,.9469];

const lineCvBL = [.184,.315,.402,.455,.515,.581,.648,.714,.814,.914,1.09];
const lineWidthBLFeuer = [15.4,16.35,17.1,17.2,17.75,18.4,19.0,19.8,21.0,21.96,23.9];
const lineWidthBLKim = [14.35,15.2,15.8,15.97,16.45,17.0,17.6,18.2,19.05,20.0,21.45];
const lineWidthBLTiwari = [15.0,15.6,16.0,16.2,16.5,17.0,17.5,18.0,18.65,19.25,20.4];
const lineWidthBLAR = [15.04,15.7,16.2,16.25,16.76,17.2,17.8,18.4,19.3,20.2,21.6];

const lineCvBRFeuer = [.184,.352,.539,.739,1.092];
const lineCoverBRFeuer = [.9966,.9958,.9955,.9949,.9944];
const lineCvBRKim = [.184,.352,.539,.645,.739,.906,1.092];
const lineCoverBRKim = [.9946,.9937,.9925,.9916,.9903,.9888,.9869];
const lineCvBRTiwari = [.184,.397,.539,.597,.623,.642,.674,.739,.803,.906,1.092];
const lineCoverBRTiwari = [.9965,.9957,.9942,.9932,.9923,.9926,.9908,.9876,.9849,.9811,.9739];
const lineCvBRAR = [.184,.397,.539,.623,.668,.739,.829,.887,.952,1.092];
const lineCoverBRAR = [.9968,.9955,.9939,.9911,.9894,.9858,.9808,.9762,.9712,.9609];

// --- legend labels ---
const legendLabels = ['Fay\u2212Feuer', 'Tiwari', 'Anderson\u2212', ' Rosenberg', 'Fay\u2212Kim'];

// R named colours used in the original
const colFeuer = '#d3d3d3', colTiwari = '#ff4500', colAR = '#4169e1', colKim = '#90ee90';
const lineFeuer = '#a9a9a9', lineTiwari = '#bd0000', lineAR = '#000080', lineKim = '#006400';
const inkColor = '#1a1a1a';
const fontFamily = "'Liberation Sans', Arial, sans-serif";

const pointOpts = {
    cross: { pointStyle: 'cross', pointRadius: 10, pointBorderWidth: 2.5 },
    triangle: { pointStyle: 'triangle', pointRadius: 10.5, pointBorderWidth: 2.7 },
    circle: { pointStyle: 'circle', pointRadius: 6.6, pointBorderWidth: 2.8 },
    crossRot: { pointStyle: 'crossRot', pointRadius: 10.5, pointBorderWidth: 2.5 }
};

function pairs(xs, ys) {
    return xs.map((x, i) => ({ x: x, y: ys[i] }));
}

function pointSet(label, xs, ys, color, style) {
    return {
        label,
        data: pairs(xs, ys),
        showLine: false,
        pointBorderColor: color,
        pointBackgroundColor: 'transparent',
        ...pointOpts[style]
    };
}

function lineSet(label, xs, ys, color) {
    return {
        label,
        data: pairs(xs, ys),
        showLine: true,
        borderColor: color,
        borderWidth: 5,
        borderCapStyle: 'round',
        borderJoinStyle: 'round',
        pointRadius: 0,
        tension: 0
    };
}

// R style axes: the line only runs between the first and the last tick
const axisLinesPlugin = {
    id: 'axisLines',
    afterDraw(chart) {
        const { ctx, scales: { x, y } } = chart;
        ctx.save();
        ctx.strokeStyle = inkColor;
        ctx.lineWidth = 2;
        ctx.lineCap = 'square';
        ctx.beginPath();
        ctx.moveTo(x.getPixelForValue(x.ticks[0].value), x.top);
        ctx.lineTo(x.getPixelForValue(x.ticks[x.ticks.length - 1].value), x.top);
        ctx.moveTo(y.right, y.getPixelForValue(y.ticks[0].value));
        ctx.lineTo(y.right, y.getPixelForValue(y.ticks[y.ticks.length - 1].value));
        ctx.stroke();
        ctx.restore();
    }
};

// Legend box of the left panels, laid out like R's legend() with its uneven rows
const legendPlugin = {
    id: 'panelLegend',
    afterDraw(chart, args, opts) {
        if (!opts.show) return;
        const ctx = chart.ctx;
        const markers = [
            [137.5, colFeuer, 'cross'],
            [190, colTiwari, 'triangle'],
            [240.7, colAR, 'circle'],
            [292.7, colKim, 'crossRot']
        ];
        ctx.save();
        ctx.fillStyle = 'transparent';
        markers.forEach(m => {
            const p = pointOpts[m[2]];
            ctx.strokeStyle = m[1];
            ctx.lineWidth = p.pointBorderWidth;
            Chart.helpers.drawPoint(ctx, { pointStyle: p.pointStyle, radius: p.pointRadius, borderWidth: p.pointBorderWidth }, 150.7, m[0]);
        });
        ctx.fillStyle = '#000';
        ctx.font = '26.8px ' + fontFamily;
        ctx.textBaseline = 'middle';
        ctx.textAlign = 'left';
        const rows = [139.5, 192.5, 227.5, 259.5, 295.2];
        legendLabels.forEach((t, i) => ctx.fillText(t, 175, rows[i]));
        ctx.restore();
    }
};

function buildPanel(id, cfg) {
    const datasets = [
        lineSet('AR smooth', cfg.lines[3][0], cfg.lines[3][1], lineAR),
        lineSet('Tiwari smooth', cfg.lines[2][0], cfg.lines[2][1], lineTiwari),
        lineSet('Fay-Kim smooth', cfg.lines[1][0], cfg.lines[1][1], lineKim),
        lineSet('Fay-Feuer smooth', cfg.lines[0][0], cfg.lines[0][1], lineFeuer),
        pointSet('Anderson-Rosenberg', cfg.x, cfg.ar, colAR, 'circle'),
        pointSet('Tiwari', cfg.x, cfg.tiwari, colTiwari, 'triangle'),
        pointSet('Fay-Kim', cfg.x, cfg.kim, colKim, 'crossRot'),
        pointSet('Fay-Feuer', cfg.x, cfg.feuer, colFeuer, 'cross')
    ];
    if (cfg.refs) {
        cfg.refs.forEach(level => {
            datasets.unshift({
                label: 'level ' + level,
                data: [{ x: -0.048, y: level }, { x: 1.248, y: level }],
                showLine: true,
                borderColor: '#000',
                borderWidth: 2.2,
                borderDash: [2, 7.4],
                pointRadius: 0
            });
        });
    }
    return new Chart(document.getElementById(id), {
        type: 'scatter',
        data: { datasets },
        plugins: [axisLinesPlugin, legendPlugin],
        options: {
            responsive: false,
            animation: false,
            layout: { padding: 0 },
            plugins: {
                legend: { display: false },
                tooltip: { enabled: false },
                panelLegend: { show: cfg.showLegend },
                title: {
                    display: true,
                    text: cfg.title,
                    color: '#000',
                    font: { family: fontFamily, size: 33, weight: 'normal', lineHeight: 1 },
                    padding: { top: 4, bottom: 48 }
                }
            },
            scales: {
                x: {
                    type: 'linear',
                    min: -0.048,
                    max: 1.248,
                    afterBuildTicks: s => { s.ticks = xTickValues.map(v => ({ value: v })); },
                    afterFit: s => { s.height = 160; },
                    border: { display: false },
                    grid: { drawOnChartArea: false, tickLength: 17, tickWidth: 2, tickColor: inkColor },
                    ticks: {
                        autoSkip: false, maxRotation: 0, minRotation: 0, padding: 20,
                        color: '#000',
                        font: { family: fontFamily, size: 25.5 },
                        callback: v => v.toFixed(1)
                    },
                    title: {
                        display: true, text: 'CV(wi/pi)', color: '#000',
                        font: { family: fontFamily, size: 27.5, lineHeight: 1 },
                        padding: { top: 0, bottom: 30 }
                    }
                },
                y: {
                    type: 'linear',
                    position: 'left',
                    min: cfg.yMin,
                    max: cfg.yMax,
                    afterBuildTicks: s => { s.ticks = cfg.yTicks.map(v => ({ value: v })); },
                    afterFit: s => { s.width = 127; },
                    border: { display: false },
                    grid: { drawOnChartArea: false, tickLength: 17, tickWidth: 2, tickColor: inkColor },
                    ticks: {
                        autoSkip: false, minRotation: 90, maxRotation: 90, padding: cfg.tickPad,
                        crossAlign: 'center',
                        color: '#000',
                        font: { family: fontFamily, size: 25.5 },
                        callback: v => v.toFixed(cfg.decimals)
                    },
                    title: {
                        display: true, text: cfg.yTitle, color: '#000',
                        font: { family: fontFamily, size: 26.7, lineHeight: 1 },
                        padding: { top: 1.5, bottom: 0 }
                    }
                },
                // empty axis, keeps the right margin equal to the left one so the title centres on the plot
                spacer: {
                    type: 'linear',
                    position: 'right',
                    afterFit: s => { s.width = 127; },
                    border: { display: false },
                    grid: { display: false },
                    ticks: { display: false }
                }
            }
        }
    });
}

const widthRange = { yMin: 9, yMax: 36, yTicks: widthTicks, decimals: 0, tickPad: 16, yTitle: 'Average CI width' };
const coverRange = { yMin: 0.9168, yMax: 1.0032, yTicks: coverageTicks, decimals: 2, tickPad: 3, yTitle: 'Estimated Coverage Prob.', refs: referenceLevels };

buildPanel('panel-tl', {
    ...widthRange, title: 'E(D) = 20', showLegend: true,
    x: cvTop, ar: widthTopAR, tiwari: widthTopTiwari, feuer: widthTopFeuer, kim: widthTopKim,
    lines: [[lineCvTL, lineWidthTLFeuer], [lineCvTL, lineWidthTLKim], [lineCvTL, lineWidthTLTiwari], [lineCvTL, lineWidthTLAR]]
});
buildPanel('panel-tr', {
    ...coverRange, title: 'E(D) = 20', showLegend: false,
    x: cvTop, ar: coverTopAR, tiwari: coverTopTiwari, feuer: coverTopFeuer, kim: coverTopKim,
    lines: [[lineCvTRFeuer, lineCoverTRFeuer], [lineCvTRKim, lineCoverTRKim], [lineCvTRTiwari, lineCoverTRTiwari], [lineCvTRAR, lineCoverTRAR]]
});
buildPanel('panel-bl', {
    ...widthRange, title: 'E(D) = 10 | truncated Poisson', showLegend: true,
    x: cvBottom, ar: widthBottomAR, tiwari: widthBottomTiwari, feuer: widthBottomFeuer, kim: widthBottomKim,
    lines: [[lineCvBL, lineWidthBLFeuer], [lineCvBL, lineWidthBLKim], [lineCvBL, lineWidthBLTiwari], [lineCvBL, lineWidthBLAR]]
});
buildPanel('panel-br', {
    ...coverRange, title: 'E(D) = 10 | truncated Poisson', showLegend: false,
    x: cvBottom, ar: coverBottomAR, tiwari: coverBottomTiwari, feuer: coverBottomFeuer, kim: coverBottomKim,
    lines: [[lineCvBRFeuer, lineCoverBRFeuer], [lineCvBRKim, lineCoverBRKim], [lineCvBRTiwari, lineCoverBRTiwari], [lineCvBRAR, lineCoverBRAR]]
});
</script>
</body>
</html>
